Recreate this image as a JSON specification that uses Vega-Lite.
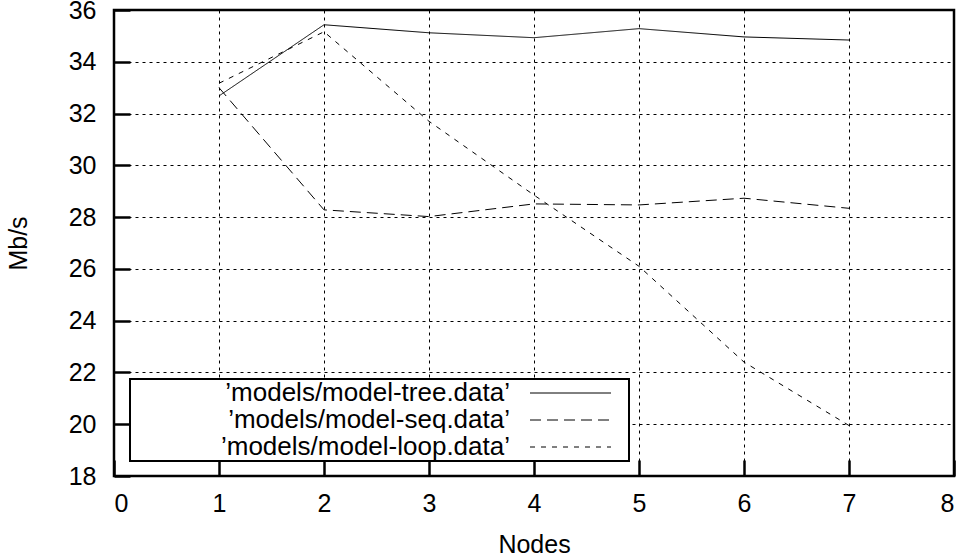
{
  "$schema": "https://vega.github.io/schema/vega-lite/v6.json",
  "width": 840,
  "height": 466,
  "autosize": {"type": "none"},
  "padding": {"left": 114, "top": 10, "right": 16, "bottom": 82},
  "background": "white",
  "config": {
    "font": "Liberation Sans",
    "view": {"stroke": "black", "strokeWidth": 2.5}
  },
  "data": {
    "values": [
      {"series": "’models/model-tree.data’", "nodes": 1, "mbps": 32.68},
      {"series": "’models/model-tree.data’", "nodes": 2, "mbps": 35.43},
      {"series": "’models/model-tree.data’", "nodes": 3, "mbps": 35.12},
      {"series": "’models/model-tree.data’", "nodes": 4, "mbps": 34.93},
      {"series": "’models/model-tree.data’", "nodes": 5, "mbps": 35.28},
      {"series": "’models/model-tree.data’", "nodes": 6, "mbps": 34.96},
      {"series": "’models/model-tree.data’", "nodes": 7, "mbps": 34.84},
      {"series": "’models/model-seq.data’", "nodes": 1, "mbps": 33.0},
      {"series": "’models/model-seq.data’", "nodes": 2, "mbps": 28.28},
      {"series": "’models/model-seq.data’", "nodes": 3, "mbps": 28.02},
      {"series": "’models/model-seq.data’", "nodes": 4, "mbps": 28.51},
      {"series": "’models/model-seq.data’", "nodes": 5, "mbps": 28.47},
      {"series": "’models/model-seq.data’", "nodes": 6, "mbps": 28.73},
      {"series": "’models/model-seq.data’", "nodes": 7, "mbps": 28.34},
      {"series": "’models/model-loop.data’", "nodes": 1, "mbps": 33.17},
      {"series": "’models/model-loop.data’", "nodes": 2, "mbps": 35.16},
      {"series": "’models/model-loop.data’", "nodes": 3, "mbps": 31.7},
      {"series": "’models/model-loop.data’", "nodes": 4, "mbps": 28.85},
      {"series": "’models/model-loop.data’", "nodes": 5, "mbps": 26.1},
      {"series": "’models/model-loop.data’", "nodes": 6, "mbps": 22.4},
      {"series": "’models/model-loop.data’", "nodes": 7, "mbps": 19.95}
    ]
  },
  "mark": {"type": "line", "color": "black", "strokeWidth": 1},
  "encoding": {
    "x": {
      "field": "nodes", "type": "quantitative",
      "scale": {"domain": [0, 8], "nice": false},
      "axis": {
        "tickCount": 8, "format": "d",
        "domain": false,
        "ticks": true, "tickSize": -16, "tickColor": "black", "tickWidth": 2.5,
        "grid": true, "gridColor": "black", "gridOpacity": 1, "gridWidth": 1, "gridDash": [3, 4],
        "labelFont": "Liberation Sans", "labelFontSize": 25, "labelColor": "black", "labelPadding": 31,
        "title": "Nodes", "titleFont": "Liberation Sans", "titleFontSize": 25, "titleFontWeight": "normal", "titleColor": "black",
        "titleY": 68, "titleBaseline": "middle"
      }
    },
    "y": {
      "field": "mbps", "type": "quantitative",
      "scale": {"domain": [18, 36], "nice": false, "zero": false},
      "axis": {
        "tickCount": 9, "format": "d",
        "domain": false,
        "ticks": true, "tickSize": -16, "tickColor": "black", "tickWidth": 2.5,
        "grid": true, "gridColor": "black", "gridOpacity": 1, "gridWidth": 1, "gridDash": [3, 4],
        "labelFont": "Liberation Sans", "labelFontSize": 25, "labelColor": "black", "labelPadding": 34,
        "title": "Mb/s", "titleFont": "Liberation Sans", "titleFontSize": 25, "titleFontWeight": "normal", "titleColor": "black",
        "titleX": -96, "titleY": 233, "titleAngle": -90, "titleBaseline": "middle"
      }
    },
    "strokeDash": {
      "field": "series", "type": "nominal",
      "scale": {
        "domain": ["’models/model-tree.data’", "’models/model-seq.data’", "’models/model-loop.data’"],
        "range": [[1, 0], [11, 6], [5, 6]]
      },
      "legend": {
        "title": null,
        "orient": "none",
        "legendX": 16,
        "legendY": 369,
        "padding": 1,
        "strokeColor": "black",
        "fillColor": "white",
        "symbolType": "M-4.05,0H4.05M5.55,0L5.55,0",
        "symbolSize": 400,
        "symbolStrokeColor": "black",
        "symbolStrokeWidth": 1,
        "symbolOffset": 426.5,
        "labelFont": "Liberation Sans",
        "labelFontSize": 26,
        "labelColor": "black",
        "labelAlign": "right",
        "labelOffset": -73.5,
        "labelLimit": 500,
        "rowPadding": 1,
        "encode": {"legend": {"update": {"strokeWidth": {"value": 2}}}}
      }
    }
  }
}
